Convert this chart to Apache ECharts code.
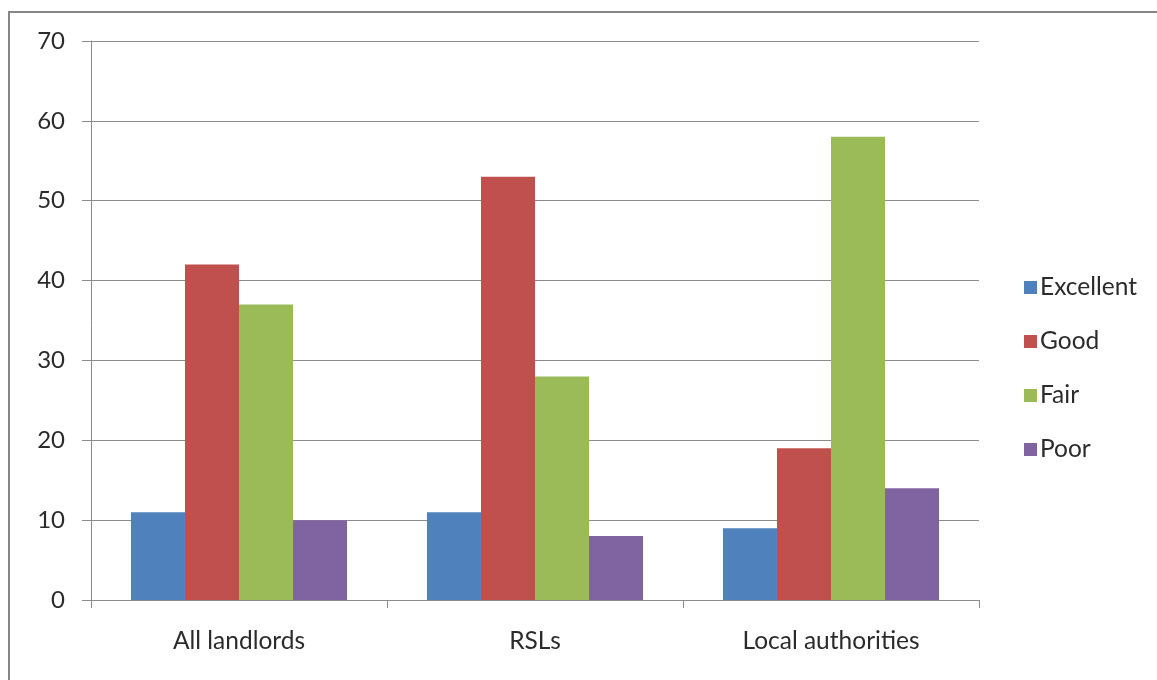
<!DOCTYPE html>
<html>
<head>
<meta charset="utf-8">
<script src="https://cdn.jsdelivr.net/npm/echarts@6/dist/echarts.min.js"></script>
<style>html,body{margin:0;padding:0;background:#fff;}#c{width:1157px;height:680px;}</style>
</head>
<body>
<div id="c"></div>
<script>
const categories = ['All landlords', 'RSLs', 'Local authorities'];
const seriesNames = ['Excellent', 'Good', 'Fair', 'Poor'];
const excellent = [11, 11, 9];
const good = [42, 53, 19];
const fair = [37, 28, 58];
const poor = [10, 8, 14];
const colors = ['#4F81BD', '#C0504D', '#9BBB59', '#8064A2'];
const values = [excellent, good, fair, poor];

const chart = echarts.init(document.getElementById('c'));
const font = 'Lato, "Open Sans", sans-serif';
chart.setOption({
  animation: false,
  backgroundColor: '#fff',
  graphic: [{
    type: 'rect', shape: {x: 9, y: 12, width: 1200, height: 700},
    style: {fill: 'none', stroke: '#868686', lineWidth: 2}, silent: true
  }],
  grid: {left: 91, right: 178, top: 41, bottom: 80},
  legend: {
    orient: 'vertical', left: 1019, top: 270,
    itemWidth: 13, itemHeight: 13, itemGap: 29,
    icon: 'rect',
    textStyle: {fontFamily: font, fontSize: 24.5, color: '#2b2b2b', lineHeight: 24, padding: [0,0,0,-2]},
    data: seriesNames
  },
  xAxis: {
    type: 'category', data: categories,
    axisLine: {lineStyle: {color: '#8c8c8c', width: 1}},
    axisTick: {show: true, length: 8, alignWithLabel: false, lineStyle: {color: '#8c8c8c'}},
    axisLabel: {fontFamily: font, fontSize: 24.5, color: '#2b2b2b', margin: 29}
  },
  yAxis: {
    type: 'value', min: 0, max: 70, interval: 10,
    axisLine: {show: true, lineStyle: {color: '#8c8c8c', width: 1}},
    axisTick: {show: true, length: 9, lineStyle: {color: '#8c8c8c'}},
    axisLabel: {fontFamily: font, fontSize: 24, color: '#2b2b2b', margin: 26},
    splitLine: {lineStyle: {color: '#8c8c8c', width: 1}}
  },
  series: seriesNames.map((n, i) => ({
    name: n, type: 'bar', data: values[i],
    itemStyle: {color: colors[i]},
    barGap: '0%', barCategoryGap: '27%'
  }))
});
</script>
</body>
</html>
